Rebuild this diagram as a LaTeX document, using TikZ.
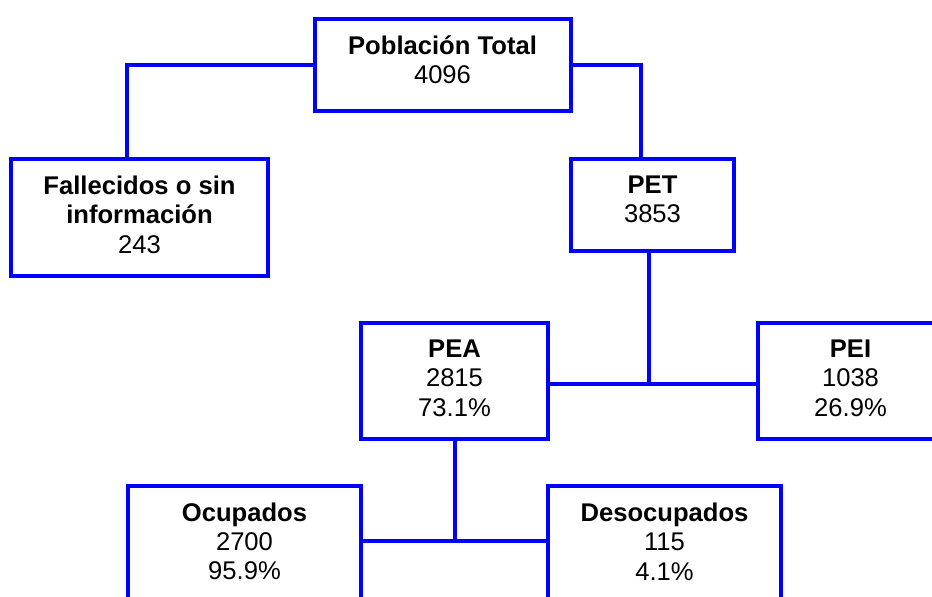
\documentclass[tikz,border=0pt]{standalone}
\usepackage{fontspec}
\setmainfont{Liberation Sans}
\definecolor{boxblue}{RGB}{0,0,255}
\begin{document}
\begin{tikzpicture}[x=1pt,y=-1pt,
  box/.style={draw=boxblue, line width=4pt, inner sep=0pt},
  conn/.style={draw=boxblue, line width=4pt},
  lbl/.style={align=center, font=\fontsize{25.6}{29.3}\selectfont, inner sep=0pt, text=black}]
\fill[white] (0,0) rectangle (932,597);
\useasboundingbox (0,0) rectangle (932,597);
\clip (0,0) rectangle (932,597);

% boxes
\node[box, minimum width=256pt, minimum height=92.6pt] (pop) at (442.5,65) {};
\node[lbl] (popt) at (442.5,59.75) {\textbf{Población Total}\\4096};

\node[box, minimum width=257pt, minimum height=117pt] (fal) at (139.5,217.5) {};
\node[lbl] (falt) at (139.5,214.8) {\textbf{Fallecidos o sin}\\\textbf{información}\\243};

\node[box, minimum width=163pt, minimum height=92pt] (pet) at (652.5,205) {};
\node[lbl] (pett) at (652.5,199.65) {\textbf{PET}\\3853};

\node[box, minimum width=187pt, minimum height=116pt] (pea) at (454.5,380.6) {};
\node[lbl] (peat) at (454.5,378.1) {\textbf{PEA}\\2815\\73.1\%};

\node[box, minimum width=185pt, minimum height=116pt] (pei) at (850.5,380.6) {};
\node[lbl] (peit) at (850.5,378.1) {\textbf{PEI}\\1038\\26.9\%};

\node[box, minimum width=233.3pt, minimum height=119pt] (ocu) at (244.7,545.5) {};
\node[lbl] (ocut) at (244.5,541.5) {\textbf{Ocupados}\\2700\\95.9\%};

\node[box, minimum width=233pt, minimum height=119pt] (des) at (664.5,545.5) {};
\node[lbl] (dest) at (664.5,541.5) {\textbf{Desocupados}\\115\\4.1\%};

% connectors
\coordinate (c1) at (127.2,65);
\coordinate (c2) at (640.7,65);
\coordinate (j1) at (648.5,383.7);
\coordinate (j2) at (454.7,540.7);
\draw[conn] (pop.west) -- (c1) -- (c1 |- fal.north);
\draw[conn] (pop.east) -- (c2) -- (c2 |- pet.north);
\draw[conn] (j1 |- pet.south) -- (j1);
\draw[conn] (pea.east |- j1) -- (pei.west |- j1);
\draw[conn] (pea.south) -- (pea.south |- j2);
\draw[conn] (ocu.east |- j2) -- (des.west |- j2);
\end{tikzpicture}
\end{document}
